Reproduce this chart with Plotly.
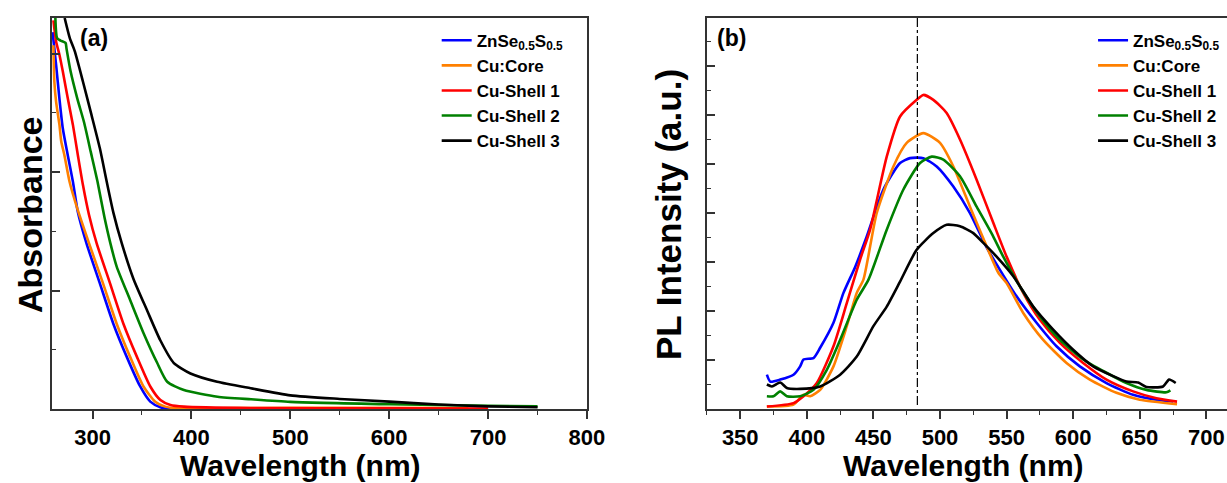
import plotly.graph_objects as go

# ---------------- Data ----------------
series_names = ["ZnSe<sub>0.5</sub>S<sub>0.5</sub>", "Cu:Core", "Cu-Shell 1", "Cu-Shell 2", "Cu-Shell 3"]
series_colors = ["#0000FF", "#FF8000", "#FF0000", "#008000", "#000000"]

# (a) Absorbance
abs_blue_x = [259.6, 263.2, 266.5, 269.9, 275.0, 280.1, 285.2, 293.8, 307.4, 321.0, 334.6, 348.2, 358.4, 368.6, 378.8, 400, 500, 600, 700]
abs_blue_y = [3.18, 2.90, 2.62, 2.37, 2.14, 1.92, 1.66, 1.40, 1.06, 0.72, 0.44, 0.19, 0.062, 0.014, 0.0, 0.0, 0.0, 0.0, 0.0]
abs_orange_x = [260.4, 261.4, 263.2, 266.5, 268.3, 271.6, 276.7, 284.3, 296.4, 310.6, 324.4, 338.0, 351.5, 363.4, 373.5, 385.4, 450, 550, 680]
abs_orange_y = [3.07, 2.76, 2.59, 2.40, 2.26, 2.14, 1.92, 1.70, 1.40, 1.06, 0.72, 0.44, 0.19, 0.062, 0.02, 0.006, 0.008, 0.01, 0.008]
abs_red_x = [260.4, 263.2, 266.5, 269.9, 275.0, 280.1, 285.2, 290.3, 296.4, 304.1, 317.7, 331.2, 344.9, 358.4, 368.6, 378.8, 392.4, 460, 600, 700]
abs_red_y = [3.28, 3.10, 2.99, 2.85, 2.62, 2.40, 2.14, 1.89, 1.64, 1.40, 1.06, 0.72, 0.44, 0.19, 0.076, 0.034, 0.02, 0.008, 0.006, 0.004]
abs_green_x = [262.4, 264.2, 267.6, 272.7, 273.7, 277.8, 284.6, 291.4, 298.2, 305.0, 312.0, 318.0, 324.5, 338.0, 351.6, 365.3, 375.5, 392.4, 426.4, 460.3, 500, 600, 700, 750]
abs_green_y = [3.30, 3.13, 3.11, 3.09, 3.04, 2.85, 2.62, 2.42, 2.17, 1.92, 1.62, 1.40, 1.20, 0.92, 0.64, 0.39, 0.23, 0.16, 0.104, 0.082, 0.06, 0.04, 0.027, 0.022]
abs_black_x = [271.8, 277.0, 282.0, 290.4, 299.0, 307.4, 314.3, 321.0, 329.5, 341.3, 355.0, 368.5, 382.0, 399.0, 426.0, 460.0, 500, 550, 600, 650, 700, 750]
abs_black_y = [3.30, 3.13, 3.02, 2.76, 2.48, 2.20, 1.92, 1.66, 1.40, 1.10, 0.835, 0.58, 0.39, 0.30, 0.23, 0.175, 0.115, 0.085, 0.062, 0.038, 0.022, 0.015]

# (b) PL intensity
pl_blue_x = [370, 372.5, 380, 390, 395, 397.5, 405, 410, 420, 427.5, 436.3, 445, 457.5, 470, 477.5, 487.5, 497.5, 510, 522.5, 535, 545, 557.5, 572.5, 587.5, 605, 625, 645, 662.5, 675]
pl_blue_y = [0.70, 0.56, 0.60, 0.70, 0.87, 1.01, 1.04, 1.25, 1.76, 2.37, 2.90, 3.52, 4.48, 5.02, 5.12, 5.12, 4.95, 4.54, 4.00, 3.30, 2.84, 2.30, 1.76, 1.28, 0.87, 0.53, 0.29, 0.19, 0.155]
pl_orange_x = [370, 390, 397.5, 402.5, 410, 420, 430, 437.5, 442.5, 452.5, 465, 475, 487.5, 500, 510, 522.5, 535, 543.8, 550, 562.5, 577.5, 595, 612.5, 632.5, 650, 678]
pl_orange_y = [0.05, 0.09, 0.29, 0.26, 0.39, 0.87, 1.69, 2.37, 2.64, 4.00, 4.95, 5.43, 5.63, 5.43, 4.95, 4.13, 3.32, 2.78, 2.57, 1.96, 1.41, 0.94, 0.60, 0.33, 0.19, 0.10]
pl_red_x = [370, 390, 397.5, 407.5, 420, 430, 440, 447.5, 460, 470, 482.5, 487.5, 495, 505, 515, 527.5, 540, 550, 562.5, 575, 590, 607.5, 625, 645, 662.5, 678]
pl_red_y = [0.05, 0.12, 0.26, 0.53, 1.28, 2.16, 3.05, 3.66, 5.15, 5.97, 6.31, 6.41, 6.31, 6.04, 5.50, 4.68, 3.80, 3.11, 2.37, 1.82, 1.35, 0.94, 0.60, 0.36, 0.22, 0.15]
pl_green_x = [370, 375, 380, 385, 395, 405, 415, 425, 437.5, 446.3, 460, 472.5, 485, 493.8, 502.5, 515, 527.5, 540, 547.5, 560, 575, 590, 607.5, 625, 640, 655, 670, 673]
pl_green_y = [0.26, 0.26, 0.36, 0.26, 0.26, 0.39, 0.80, 1.41, 2.23, 2.64, 3.66, 4.48, 5.02, 5.15, 5.09, 4.75, 4.13, 3.52, 3.11, 2.50, 1.89, 1.41, 1.01, 0.74, 0.53, 0.39, 0.34, 0.38]
pl_black_x = [370, 373.8, 380, 385, 395, 410, 425, 437.5, 450, 460, 470, 482.5, 495, 505, 515, 525, 532.5, 542.5, 555, 570, 585, 600, 615, 630, 640, 648.8, 655, 667.5, 672, 677]
pl_black_y = [0.50, 0.46, 0.54, 0.43, 0.41, 0.46, 0.70, 1.07, 1.69, 2.09, 2.60, 3.25, 3.59, 3.76, 3.73, 3.59, 3.39, 3.11, 2.71, 2.09, 1.62, 1.21, 0.87, 0.67, 0.56, 0.54, 0.45, 0.46, 0.60, 0.53]

ref_peak_nm = 483

abs_x = [abs_blue_x, abs_orange_x, abs_red_x, abs_green_x, abs_black_x]
abs_y = [abs_blue_y, abs_orange_y, abs_red_y, abs_green_y, abs_black_y]
pl_x = [pl_blue_x, pl_orange_x, pl_red_x, pl_green_x, pl_black_x]
pl_y = [pl_blue_y, pl_orange_y, pl_red_y, pl_green_y, pl_black_y]

# ---------------- Figure ----------------
FONT = "Arial, Liberation Sans, sans-serif"
W, H = 1227, 483
L, R, T, B = 52, 0, 18, 74
pw, ph = W - L - R, H - T - B

fig = go.Figure()
for i in range(5):
    fig.add_trace(go.Scatter(x=abs_x[i], y=abs_y[i], mode="lines", name=series_names[i],
                             line=dict(color=series_colors[i], width=2.6, shape="spline", smoothing=0.6),
                             legend="legend", xaxis="x", yaxis="y"))
for i in range(5):
    fig.add_trace(go.Scatter(x=pl_x[i], y=pl_y[i], mode="lines", name=series_names[i],
                             line=dict(color=series_colors[i], width=2.6, shape="spline", smoothing=0.6),
                             legend="legend2", xaxis="x2", yaxis="y2"))

fig.add_shape(type="line", xref="x2", yref="y2 domain", x0=ref_peak_nm, x1=ref_peak_nm, y0=0.01, y1=1,
              line=dict(color="black", width=1.2, dash="dashdot"))

tickfont = dict(family=FONT, size=22, color="black", weight="bold")
axis_common = dict(showline=True, linecolor="#333333", linewidth=1.6, showgrid=False, zeroline=False)
minor_x = dict(ticks="outside", ticklen=4, tickwidth=1.2, tickcolor="#333333")
minor_y = dict(ticks="inside", ticklen=4, tickwidth=1.2, tickcolor="#333333")
legend_font = dict(family=FONT, size=17, color="black", weight="bold")

fig.update_layout(
    width=W, height=H,
    margin=dict(l=L, r=R, t=T, b=B, autoexpand=False),
    plot_bgcolor="white", paper_bgcolor="white",
    font=dict(family=FONT, color="black"),
    xaxis=dict(domain=[0, 0.4553], range=[259, 800], dtick=100, tick0=0, ticks="outside", ticklen=8,
               tickwidth=1.5, tickcolor="#333333", mirror=True, tickfont=tickfont,
               minor=dict(dtick=50, **minor_x), **axis_common),
    yaxis=dict(domain=[0, 1], range=[0, 3.3], dtick=1, tick0=0, ticks="inside", ticklen=8,
               tickwidth=1.5, tickcolor="#333333", showticklabels=False, mirror=True,
               minor=dict(dtick=0.5, **minor_y), **axis_common),
    xaxis2=dict(domain=[0.5574, 1.0], range=[325, 715.5], dtick=50, tick0=0, ticks="outside", ticklen=8,
                tickwidth=1.5, tickcolor="#333333", mirror=True, tickfont=tickfont, anchor="y2",
                minor=dict(dtick=25, **minor_x), **axis_common),
    yaxis2=dict(domain=[0, 1], range=[0, 7.98], dtick=1, tick0=0, ticks="inside", ticklen=8,
                tickwidth=1.5, tickcolor="#333333", showticklabels=False, mirror=False, anchor="x2",
                minor=dict(dtick=0.5, **minor_y), **axis_common),
    legend=dict(x=0.3274, y=0.988, xanchor="left", yanchor="top", bgcolor="rgba(0,0,0,0)",
                font=legend_font, itemwidth=30, tracegroupgap=0),
    legend2=dict(x=0.886, y=0.988, xanchor="left", yanchor="top", bgcolor="rgba(0,0,0,0)",
                 font=legend_font, itemwidth=30, tracegroupgap=0),
    showlegend=True,
)

title_font = dict(family=FONT, size=30, color="black", weight="bold")
annotations = [
    dict(text="Wavelength (nm)", x=300, y=465, font=title_font),
    dict(text="Wavelength (nm)", x=963, y=465, font=title_font),
    dict(text="Absorbance", x=30, y=215, font=dict(title_font, size=34), textangle=-90),
    dict(text="PL Intensity (a.u.)", x=668, y=215, font=dict(title_font, size=35), textangle=-90),
    dict(text="(a)", x=94, y=38, font=dict(family=FONT, size=23, color="black", weight="bold")),
    dict(text="(b)", x=731, y=38, font=dict(family=FONT, size=23, color="black", weight="bold")),
]
for a in annotations:
    fig.add_annotation(text=a["text"], x=(a["x"] - L) / pw, y=(H - B - a["y"]) / ph, xref="paper", yref="paper",
                       showarrow=False, font=a["font"], textangle=a.get("textangle", 0),
                       xanchor="center", yanchor="middle")

fig.write_html("out.html", config={"displayModeBar": False},
               post_script="document.body.style.margin='0';document.body.style.overflow='hidden';")
